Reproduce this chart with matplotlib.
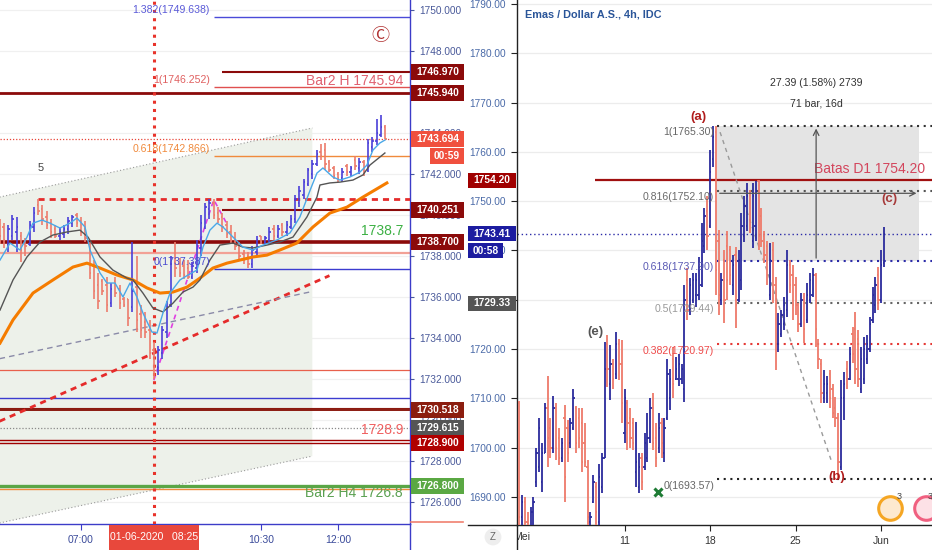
import numpy as np
import matplotlib

matplotlib.use("Agg")
import matplotlib.pyplot as plt  # noqa: E402
from matplotlib.lines import Line2D  # noqa: E402
from matplotlib.patches import Polygon, Rectangle  # noqa: E402
from matplotlib.transforms import (  # noqa: E402
    Bbox,
    TransformedBbox,
    blended_transform_factory,
)

plt.rcParams["font.family"] = ["Liberation Sans", "DejaVu Sans"]

PX = 0.72  # points per pixel at dpi 100
W, H = 932, 550

# ---------------------------------------------------------------- left: 5 min
LEFT_T0 = 325  # 05:25 in minutes, one bar every 5 minutes, (open, high, low, close)
bars_0525 = [
    (1739.6, 1739.8, 1738.6, 1739.0), (1739.4, 1739.6, 1738.4, 1738.8),
    (1738.6, 1739.5, 1738.2, 1739.3), (1739.0, 1740.0, 1738.8, 1739.8),
    (1739.2, 1739.9, 1738.2, 1739.4), (1739.0, 1739.2, 1737.7, 1738.3),
    (1738.6, 1738.9, 1738.0, 1738.5), (1738.6, 1739.7, 1738.5, 1739.5),
    (1739.4, 1740.4, 1739.2, 1740.1), (1740.5, 1740.8, 1740.0, 1740.2),
    (1740.3, 1740.5, 1739.5, 1739.8), (1739.9, 1740.2, 1739.3, 1739.5),
    (1739.6, 1739.8, 1738.9, 1739.2), (1739.3, 1739.5, 1738.9, 1739.0),
    (1739.0, 1739.4, 1738.8, 1739.2), (1739.1, 1739.5, 1738.9, 1739.3),
    (1739.3, 1739.9, 1739.1, 1739.7), (1739.6, 1740.0, 1739.4, 1739.9),
    (1740.0, 1740.1, 1739.4, 1739.6),
]
bars_0700 = [
    (1739.7, 1739.9, 1739.0, 1739.2), (1739.3, 1739.7, 1738.7, 1738.9),
    (1738.6, 1738.7, 1736.9, 1737.2), (1737.5, 1737.8, 1735.9, 1736.3),
    (1736.6, 1737.2, 1735.4, 1735.8), (1736.8, 1736.9, 1736.1, 1736.3),
    (1736.6, 1737.0, 1735.3, 1735.6), (1735.7, 1736.7, 1735.5, 1736.4),
    (1736.8, 1737.0, 1736.0, 1736.2), (1736.4, 1736.6, 1735.4, 1735.7),
    (1735.9, 1736.0, 1735.5, 1735.6), (1735.9, 1735.9, 1734.6, 1735.0),
]
bars_0800 = [
    (1735.5, 1738.7, 1735.3, 1736.3), (1736.5, 1738.0, 1734.3, 1734.9),
    (1735.2, 1735.6, 1734.0, 1734.4), (1734.8, 1735.3, 1734.0, 1734.3),
    (1734.4, 1734.9, 1733.0, 1733.3), (1733.4, 1733.8, 1732.0, 1732.6),
    (1732.6, 1733.6, 1732.2, 1733.4), (1733.3, 1734.6, 1733.0, 1734.4),
    (1734.3, 1735.8, 1734.0, 1735.5), (1735.6, 1738.0, 1735.5, 1737.6),
    (1737.7, 1738.7, 1737.0, 1737.4), (1737.6, 1737.9, 1737.0, 1737.2),
]
bars_0900 = [
    (1737.5, 1737.8, 1736.9, 1737.1), (1737.4, 1737.8, 1736.9, 1737.0),
    (1737.0, 1737.7, 1736.9, 1737.5), (1737.4, 1738.8, 1737.2, 1738.5),
    (1738.4, 1740.0, 1738.0, 1739.6), (1739.4, 1740.6, 1739.3, 1740.4),
    (1740.3, 1740.8, 1739.8, 1740.6), (1740.6, 1740.8, 1739.8, 1740.0),
    (1740.1, 1740.4, 1739.6, 1739.8), (1739.9, 1740.1, 1739.2, 1739.4),
    (1739.5, 1739.7, 1738.9, 1739.1), (1739.2, 1739.5, 1738.6, 1738.8),
]
bars_1000 = [
    (1738.9, 1739.2, 1738.3, 1738.5), (1738.6, 1738.7, 1737.8, 1738.0),
    (1738.1, 1738.3, 1737.6, 1737.8), (1738.0, 1738.2, 1737.4, 1737.6),
    (1737.6, 1738.5, 1737.4, 1738.3), (1738.2, 1739.0, 1738.0, 1738.8),
    (1739.0, 1739.0, 1738.6, 1738.7), (1738.7, 1739.0, 1738.6, 1738.9),
    (1738.8, 1739.4, 1738.7, 1739.2), (1739.3, 1739.5, 1738.8, 1739.0),
    (1739.0, 1739.5, 1738.9, 1739.3), (1739.5, 1739.6, 1739.0, 1739.2),
]
bars_1100 = [
    (1739.2, 1739.7, 1739.0, 1739.5), (1739.4, 1740.0, 1739.3, 1739.8),
    (1739.8, 1741.0, 1739.6, 1740.8), (1740.6, 1741.4, 1740.4, 1741.2),
    (1741.0, 1741.75, 1740.8, 1741.6), (1741.5, 1742.3, 1741.4, 1742.2),
    (1742.0, 1742.7, 1741.75, 1742.5), (1742.5, 1743.2, 1742.4, 1743.0),
    (1743.1, 1743.45, 1742.7, 1742.9), (1743.2, 1743.5, 1742.2, 1742.5),
    (1742.6, 1742.7, 1742.1, 1742.2), (1742.3, 1742.4, 1741.75, 1741.9),
]
bars_1200 = [
    (1742.0, 1742.1, 1741.6, 1741.8), (1741.8, 1742.3, 1741.6, 1742.1),
    (1742.4, 1742.5, 1741.9, 1742.1), (1742.1, 1742.4, 1741.9, 1742.3),
    (1742.7, 1742.9, 1742.2, 1742.4), (1742.3, 1742.8, 1742.0, 1742.6),
    (1742.6, 1742.7, 1741.9, 1742.1), (1742.2, 1743.7, 1742.1, 1743.5),
    (1743.3, 1743.8, 1743.1, 1743.6), (1743.6, 1744.7, 1743.4, 1744.0),
    (1743.9, 1744.9, 1743.8, 1744.3), (1744.3, 1744.4, 1743.7, 1743.694),
]

# moving averages: (minute of day, price)
ma_fast = [
    (325.5, 1737.81), (337.2, 1738.64), (348.8, 1738.30), (357, 1738.93), (364, 1739.61),
    (374.5, 1739.76), (383.8, 1739.61), (395.5, 1739.37), (407.2, 1739.61), (415.3, 1739.86),
    (424.7, 1739.42), (430.5, 1738.30), (442.2, 1737.18), (450.3, 1736.69), (459.7, 1736.69),
    (469, 1736.01), (477.2, 1736.69), (485.3, 1736.01), (492.3, 1735.23), (502.8, 1734.30),
    (508.7, 1734.25), (515.7, 1735.23), (523.9, 1736.20), (535.5, 1736.84), (544.9, 1737.08),
    (555.4, 1737.32), (562.4, 1738.44), (570.5, 1739.27), (578.7, 1739.61), (585.7, 1739.42),
    (597.4, 1738.93), (609, 1738.44), (620.7, 1738.30), (632.4, 1738.54), (648.7, 1738.79),
    (663.9, 1739.13), (675.5, 1739.91), (688.4, 1741.32), (695.4, 1742.05), (702.4, 1742.30),
    (714, 1741.86), (722.2, 1741.71), (733.9, 1741.86), (745.6, 1742.10), (753.7, 1742.44),
    (760.7, 1743.17), (768.9, 1743.52), (774.7, 1743.66),
]
ma_mid = [
    (325.5, 1735.37), (340.7, 1736.84), (357, 1737.96), (372.2, 1738.69), (387.3, 1739.03),
    (403.7, 1739.18), (418.8, 1739.27), (428.2, 1738.93), (442.2, 1737.96), (457.3, 1737.32),
    (473.7, 1736.93), (480.7, 1736.84), (492.3, 1736.20), (504, 1735.47), (515.7, 1735.28),
    (527.4, 1735.71), (539, 1736.25), (550.7, 1736.49), (558.9, 1736.84), (570.5, 1737.81),
    (582.2, 1738.54), (597.4, 1738.64), (609, 1738.44), (620.7, 1738.40), (637, 1738.54),
    (652.2, 1738.69), (667.4, 1738.93), (683.7, 1739.91), (695.4, 1740.88), (698.9, 1741.47),
    (710.5, 1741.57), (722.2, 1741.61), (737.4, 1741.71), (749.1, 1741.96), (757.2, 1742.44),
    (774.7, 1743.03),
]
ma_slow = [
    (325.5, 1733.76), (340.7, 1734.89), (364, 1736.20), (387.3, 1736.84), (410.7, 1737.47),
    (427, 1737.66), (442.2, 1737.42), (462, 1737.08), (480.7, 1736.84), (497, 1736.45),
    (512.2, 1736.20), (527.4, 1736.25), (543.7, 1736.49), (558.9, 1736.93), (574, 1737.42),
    (590.4, 1737.66), (605.5, 1737.81), (620.7, 1737.96), (637, 1738.05), (652.2, 1738.30),
    (672, 1738.64), (690.7, 1739.42), (710.5, 1740.10), (730.4, 1740.39), (749.1, 1740.88),
    (777, 1741.57),
]

# drawn levels on the 5 min chart
fib_left = [("1.382", 1749.638, "#4a4ad8", "#5a5ad8"),
            ("1", 1746.252, "#e05050", "#e06060"),
            ("0.618", 1742.866, "#f08a3c", "#f08a3c"),
            ("0", 1737.387, "#3c3cd0", "#4a4ad0")]
FIB_LEFT_T = 575          # 09:35, anchor of the fib tool
LEVEL_T = 585             # 09:45, anchor of the short dark red levels
levels_short = [1746.970, 1740.251]
levels_full = [(1745.940, "#8b0a0a", 2.0), (1738.700, "#8b0a0a", 2.6),
               (1738.16, "#f2a196", 1.6), (1732.43, "#e8604c", 0.9),
               (1731.07, "#3c3cd0", 1.0), (1730.518, "#8b1a10", 1.4),
               (1730.60, "#8b1a10", 0.8), (1728.90, "#a00000", 1.0),
               (1729.02, "#a00000", 1.0), (1726.80, "#5aa646", 2.4),
               (1726.67, "#f08a3c", 1.0)]
LAST_LEFT = 1743.694
RES_DASH = 1740.78        # red dashed horizontal from 06:10
RES_DASH_T = 370
SESSION_T = 505           # 08:25 vertical marker
red_trend = [(325, 1729.95), (710, 1737.05)]
gray_trend = [(325, 1733.0), (689, 1736.27)]
chan_top = [(325, 1740.88), (690, 1744.25)]
chan_bot = [(325, 1724.99), (690, 1728.25)]
pink_leg = [(505, 1731.95), (575, 1740.75), (590, 1739.6)]

tags_left = [(1746.970, "#8b0a0a"), (1745.940, "#8b0a0a"), (1743.694, "#f0503e"),
             (1740.251, "#8b0a0a"), (1738.700, "#8b0a0a"), (1730.518, "#8b1d0f"),
             (1729.615, "#555555"), (1728.900, "#b00000"), (1726.800, "#5aa843")]
left_ticks_t = [420, 630, 720]
left_ticks_lab = ["07:00", "10:30", "12:00"]

# ---------------------------------------------------------------- right: 4 h
apr30 = [(1709, 1709.5, 1684, 1686)]
may01 = [(1686, 1690.5, 1683, 1689), (1689, 1690, 1684, 1685), (1685, 1687, 1682, 1683),
         (1683, 1688, 1682, 1687), (1687, 1690, 1684, 1689), (1693, 1700, 1692, 1699)]
may04 = [(1696, 1706, 1695, 1704), (1693, 1701, 1691, 1699), (1699, 1709, 1699, 1708),
         (1708, 1714.5, 1696, 1702), (1704, 1706, 1698, 1700), (1700, 1710.5, 1699, 1708)]
may05 = [(1708, 1709, 1697.5, 1700), (1702, 1704, 1696.5, 1698), (1698, 1702, 1697, 1701),
         (1706, 1708.7, 1689, 1694), (1704, 1705.6, 1697, 1699), (1701, 1706, 1700, 1705)]
may06 = [(1704, 1712, 1703.5, 1710), (1708, 1708.5, 1699, 1701), (1706, 1708, 1700, 1702),
         (1705, 1708, 1695, 1697), (1701, 1705, 1696, 1697), (1696, 1697.5, 1684, 1686)]
may07 = [(1685, 1687, 1683, 1686), (1689, 1694.5, 1688.8, 1693), (1692, 1693, 1684, 1687),
         (1685, 1696.7, 1684, 1694), (1692, 1699, 1690.8, 1698), (1698, 1721.4, 1698, 1716)]
may08 = [(1721, 1722.8, 1712.3, 1716), (1713, 1720.8, 1709.7, 1717), (1717, 1718, 1712, 1714),
         (1715, 1723.5, 1714, 1721), (1721, 1722, 1713.7, 1717), (1717, 1721.8, 1705, 1709)]
may11 = [(1703, 1712, 1701, 1710), (1709, 1709.7, 1699.6, 1705), (1706, 1708, 1700, 1702),
         (1705, 1706, 1699.6, 1701), (1695, 1705.2, 1692, 1697), (1692, 1699, 1690.8, 1696)]
may12 = [(1698, 1699, 1691.4, 1693), (1696, 1703, 1695.5, 1701), (1698, 1707, 1697, 1702),
         (1702, 1710, 1701, 1708), (1708, 1711, 1699.5, 1701), (1702, 1705, 1696, 1698)]
may13 = [(1700, 1707, 1699, 1704), (1705, 1706, 1698, 1701), (1699, 1706, 1697, 1704),
         (1706, 1718, 1705.6, 1715), (1710, 1716, 1707.6, 1714), (1718, 1720.4, 1710, 1713)]
may14 = [(1714, 1718.4, 1713.7, 1716), (1714, 1719, 1712.5, 1717), (1714, 1717, 1713, 1716),
         (1712, 1733, 1709.3, 1730), (1734, 1736.5, 1726, 1728), (1728, 1734.4, 1727, 1733)]
may15 = [(1730, 1735.4, 1729.3, 1734), (1731, 1735.4, 1728.5, 1734), (1731, 1738.7, 1730, 1737),
         (1733, 1745.6, 1732.6, 1742), (1741, 1748.6, 1739.5, 1747), (1748, 1751, 1740, 1743)]
may18 = [(1745, 1760.4, 1744.6, 1756), (1758.5, 1765.3, 1757, 1763), (1764, 1765.3, 1731, 1736),
         (1742, 1744.2, 1727, 1731), (1730, 1735.4, 1729, 1734), (1738, 1740, 1725.3, 1730)]
may19 = [(1741, 1744, 1730, 1734), (1740, 1741, 1733, 1735), (1733, 1739, 1731, 1737),
         (1739, 1740.7, 1724.3, 1729), (1730, 1740, 1729.6, 1738), (1734, 1747.6, 1732, 1745)]
may20 = [(1743, 1751, 1741.7, 1749), (1745, 1753.7, 1744, 1751), (1752, 1752.3, 1743.6, 1746),
         (1742, 1753.7, 1740.5, 1751), (1745, 1754, 1742, 1752), (1754, 1754.3, 1740, 1743)]
may21 = [(1747, 1748.6, 1740.7, 1742), (1743, 1744, 1737.5, 1739), (1741, 1742, 1733, 1735),
         (1731, 1741.5, 1730, 1738), (1740, 1741.7, 1729.3, 1732), (1733, 1734.6, 1715.8, 1721)]
may22 = [(1721, 1727.3, 1719.4, 1725), (1723, 1728, 1722.5, 1727), (1725, 1730.6, 1723.9, 1729),
         (1728, 1740, 1726.5, 1737), (1737, 1738, 1731.4, 1733), (1735, 1737, 1726, 1729)]
may25 = [(1733, 1734.6, 1726.9, 1729), (1729, 1729.3, 1723.5, 1725), (1725, 1731.4, 1724.5, 1730),
         (1730, 1731.4, 1721.2, 1724), (1726, 1733.4, 1725.3, 1731), (1730, 1735.4, 1729.3, 1734)]
may26 = [(1731, 1736.5, 1730.6, 1735), (1735, 1735.5, 1720.4, 1724), (1721, 1722, 1716, 1718),
         (1717, 1718, 1709, 1711), (1710, 1715.8, 1709, 1713), (1711, 1714.5, 1709, 1713)]
may27 = [(1715, 1715.8, 1708, 1710), (1712, 1713, 1706, 1707), (1708, 1710.3, 1704.2, 1706),
         (1706, 1707, 1693.6, 1697), (1696, 1713.7, 1695.5, 1710), (1710, 1715.4, 1705.6, 1713)]
may28 = [(1716, 1717.5, 1712, 1714), (1714, 1720.4, 1713.7, 1719), (1723, 1724.5, 1717.2, 1719),
         (1724, 1727.5, 1713, 1716), (1722, 1723.9, 1712.3, 1714), (1712, 1720.4, 1711, 1718)]
may29 = [(1714, 1722.4, 1713, 1720), (1718, 1722.8, 1717, 1721), (1720, 1726.5, 1719.4, 1725),
         (1726, 1732.6, 1725.3, 1731), (1729, 1734.6, 1727.3, 1733), (1735, 1736.7, 1728, 1730)]
jun01 = [(1730, 1740, 1729.3, 1737), (1737.5, 1744.8, 1736.7, 1743.41)]

right_ticks_i = [36, 66, 96, 126]
right_ticks_lab = ["11", "18", "25", "Jun"]
fib_right = [("1", 1765.30, "#333333", "#666666"),
             ("0.816", 1752.10, "#555555", "#6a6a6a"),
             ("0.618", 1737.90, "#2c2ca8", "#5a5ab4"),
             ("0.5", 1729.44, "#666666", "#9a9a9a"),
             ("0.382", 1720.97, "#e53935", "#ef4a4a"),
             ("0", 1693.57, "#222222", "#666666")]
FIB_RIGHT_I = 68.4
MEASURE_BARS = 71
MEASURE_LO, MEASURE_HI = 1737.90, 1765.30
BATAS = 1754.20
BATAS_I = 25.6
LAST_RIGHT = 1743.41
wave_leg = [(69.5, 1764.0), (108.8, 1696.9)]
wave_marks = [("(a)", 61.8, 1767.1, "#b01c1c"), ("(b)", 110.5, 1694.1, "#b01c1c"),
              ("(c)", 128.8, 1750.4, "#a63a3a"), ("(e)", 25.6, 1723.5, "#555555")]
tags_right = [(1754.20, "#a00000"), (1743.41, "#1c1ca0"), (1729.33, "#555555")]

UP_L, DN_L = "#4a3fd8", "#ec7c6c"
UP_R, DN_R = "#2b2b9c", "#ee7a6a"


def draw_bars(ax, xs, bars, half, up, dn, lw):
    o, h, l, c = np.array(bars, dtype=float).T
    col = [up if cc >= oo else dn for oo, cc in zip(o, c)]
    ax.vlines(xs, l, h, colors=col, lw=lw, zorder=4)
    ax.hlines(o, xs - half, xs, colors=col, lw=lw, zorder=4)
    ax.hlines(c, xs, xs + half, colors=col, lw=lw, zorder=4)


def tag(ax, price, text, fc, x0, x1, drop=0, h=16, fs=7.4):
    """Price box drawn in figure pixels at the height of `price` (drop = px downward)."""
    yd = ax.transData.transform((ax.get_xlim()[0], price))[1] - drop
    fig.add_artist(Rectangle((x0 / W, (yd - h / 2) / H), (x1 - x0) / W, h / H,
                             transform=fig.transFigure, fc=fc, ec="none", zorder=20))
    fig.text((x0 + x1) / 2 / W, yd / H, text, ha="center", va="center", color="white",
             fontsize=fs, fontweight="bold", zorder=21)


def fig_line(x0, y0, x1, y1, color, lw=1.0):
    """Straight line in figure pixels measured from the top-left corner."""
    fig.add_artist(Line2D([x0 / W, x1 / W], [1 - y0 / H, 1 - y1 / H], color=color, lw=lw,
                          transform=fig.transFigure, zorder=19))


fig = plt.figure(figsize=(9.32, 5.5), dpi=100)
axL = fig.add_axes([0, 26 / 550, 410 / 932, 524 / 550])
axR = fig.add_axes([517 / 932, 25 / 550, 415 / 932, 525 / 550])

# ================================================================ left panel
axL.set_xlim(325.5, 804)
axL.set_ylim(1724.94, 1750.49)
for s in ("top", "left"):
    axL.spines[s].set_visible(False)
for s in ("right", "bottom"):
    axL.spines[s].set_color("#3c3cc8")
    axL.spines[s].set_linewidth(1.0)

ygrid = np.arange(1726, 1751, 2)
for y in ygrid:
    axL.axhline(y, color="#f0f0f0", lw=0.9, zorder=0)

(t0, p0), (t1, p1) = chan_top
(b0, q0), (b1, q1) = chan_bot
axL.add_patch(Polygon([(t0, p0), (t1, p1), (b1, q1), (b0, q0)], closed=True,
                      fc="#edf1ea", ec="none", zorder=0.5))
axL.plot(*zip(*chan_top), color="#9a9a9a", lw=0.8, dashes=(1, 2), zorder=1)
axL.plot(*zip(*chan_bot), color="#9a9a9a", lw=0.8, dashes=(1, 2), zorder=1)

for price, color, lw in levels_full:
    axL.axhline(price, color=color, lw=lw, zorder=2)
axL.axhline(LAST_LEFT, color="#e8463a", lw=0.9, dashes=(1, 1.5), zorder=2)
axL.axhline(1729.615, color="#8a8a8a", lw=0.9, dashes=(1, 1.5), zorder=2)
for price in levels_short:
    axL.hlines(price, LEVEL_T, 804, color="#8b0a0a", lw=1.5, zorder=2)
for name, price, lc, tc in fib_left:
    axL.hlines(price, FIB_LEFT_T, 804, color=lc, lw=1.0, zorder=2)
    axL.annotate(f"{name}({price:.3f})", xy=(FIB_LEFT_T - 4.5, price), xytext=(0, 7 * PX),
                 textcoords="offset points", ha="right", va="center", color=tc,
                 fontsize=7.6, zorder=6)

axL.hlines(RES_DASH, RES_DASH_T, 804, color="#e52b2b", lw=2.0, linestyles=(0, (2.2, 1.8)), zorder=3)
axL.plot(*zip(*red_trend), color="#e52b2b", lw=2.0, dashes=(2.2, 1.8), zorder=3)
axL.plot(*zip(*gray_trend), color="#8a8aa8", lw=1.0, dashes=(4, 3), zorder=3)
axL.plot(*zip(*pink_leg), color="#e040e0", lw=1.2, dashes=(3, 2.5), zorder=3)
axL.axvline(SESSION_T, color="#e8332a", lw=2.2, dashes=(1, 1.7), zorder=3)

axL.plot(*zip(*ma_slow), color="#f57c00", lw=2.2, zorder=5)
axL.plot(*zip(*ma_mid), color="#555555", lw=1.0, zorder=5)
axL.plot(*zip(*ma_fast), color="#4aa8e8", lw=1.0, zorder=5)

left_bars = bars_0525 + bars_0700 + bars_0800 + bars_0900 + bars_1000 + bars_1100 + bars_1200
lx = LEFT_T0 + 5 * np.arange(len(left_bars))
draw_bars(axL, lx, left_bars, 1.7, UP_L, DN_L, 1.2)

axL.annotate("Bar2 H 1745.94", xy=(795.7, 1745.94), xytext=(0, 12.5 * PX), textcoords="offset points",
             ha="right", va="center", color="#e06070", fontsize=10, zorder=6)
axL.annotate("1738.7", xy=(795.7, 1738.70), xytext=(0, 10.5 * PX), textcoords="offset points",
             ha="right", va="center", color="#3cb043", fontsize=10, zorder=6)
axL.annotate("1728.9", xy=(795.7, 1728.90), xytext=(0, 13 * PX), textcoords="offset points",
             ha="right", va="center", color="#f06060", fontsize=10, zorder=6)
axL.annotate("Bar2 H4 1726.8", xy=(795.7, 1726.80), xytext=(0, -7.5 * PX), textcoords="offset points",
             ha="right", va="center", color="#5aa050", fontsize=10, zorder=6)
axL.text(373.3, 1742.3, "5", color="#444444", fontsize=8, ha="center", va="center", zorder=6)
axL.text(770, 1748.73, "\u24b8", color="#b03030", fontsize=13, ha="center", va="center",
         family=["Noto Sans CJK JP", "DejaVu Sans"], zorder=6)

axL.yaxis.tick_right()
axL.set_yticks(ygrid)
axL.set_yticklabels([f"{v:.3f}" for v in ygrid])
axL.tick_params(axis="y", length=3, width=0.8, pad=4, color="#4a5a9a", labelcolor="#4a5a9a",
                labelsize=7.3)
axL.set_xticks(left_ticks_t)
axL.set_xticklabels(left_ticks_lab)
axL.tick_params(axis="x", length=4, width=0.8, pad=4, color="#3c3cc8", labelcolor="#3a4a9a",
                labelsize=7.5)

for price, fc in tags_left:
    tag(axL, price, f"{price:.3f}", fc, 411, 464)
tag(axL, LAST_LEFT, "00:59", "#f0503e", 430, 464, drop=17)

# session date box under the vertical marker
fig.add_artist(Rectangle((109 / W, 0), 90 / W, 25 / H, transform=fig.transFigure,
                         fc="#e8483c", ec="none", zorder=20))
fig.text(154 / W, 12.5 / H, "01-06-2020   08:25", ha="center", va="center", color="white",
         fontsize=7.5, zorder=21)

# ================================================================ right panel
axR.set_xlim(-1.75, 143.86)
axR.set_ylim(1684.32, 1790.81)
for s in ("top", "right"):
    axR.spines[s].set_visible(False)
for s in ("left", "bottom"):
    axR.spines[s].set_color("#222222")
    axR.spines[s].set_linewidth(1.0)

rgrid = np.arange(1690, 1791, 10)
for y in rgrid:
    axR.axhline(y, color="#ececec", lw=0.9, zorder=0)

axR.add_patch(Rectangle((FIB_RIGHT_I, MEASURE_LO), MEASURE_BARS, MEASURE_HI - MEASURE_LO,
                        fc="#e4e4e4", ec="none", zorder=1))

for name, price, lc, tc in fib_right:
    axR.hlines(price, FIB_RIGHT_I, 150, color=lc, lw=1.5, linestyles=(0, (1, 2.2)), zorder=2)
    axR.annotate(f"{name}({price:.2f})", xy=(FIB_RIGHT_I - 1, price), xytext=(0, -6.5 * PX),
                 textcoords="offset points", ha="right", va="center", color=tc,
                 fontsize=7.6, zorder=6)
axR.axhline(LAST_RIGHT, color="#2c2ca8", lw=1.0, dashes=(1, 2), zorder=2)
axR.hlines(BATAS, BATAS_I, 150, color="#a01010", lw=1.6, zorder=3)
axR.text(141.4, BATAS + 2.3, "Batas D1 1754.20", color="#d3455c", fontsize=10,
         ha="right", va="center", zorder=6)
axR.plot(*zip(*wave_leg), color="#9a9a9a", lw=1.0, dashes=(3, 3), zorder=3)

mid_i = FIB_RIGHT_I + MEASURE_BARS / 2 - 0.7
axR.annotate("", xy=(mid_i, MEASURE_HI), xytext=(mid_i, MEASURE_LO),
             arrowprops=dict(arrowstyle="->", color="#555555", lw=0.9), zorder=6)
axR.annotate("", xy=(FIB_RIGHT_I + MEASURE_BARS, (MEASURE_LO + MEASURE_HI) / 2),
             xytext=(FIB_RIGHT_I, (MEASURE_LO + MEASURE_HI) / 2),
             arrowprops=dict(arrowstyle="->", color="#555555", lw=0.9), zorder=6)
axR.text(mid_i, 1774.0, "27.39 (1.58%) 2739", color="#333333", fontsize=7.6, ha="center", va="center")
axR.text(mid_i, 1769.9, "71 bar, 16d", color="#333333", fontsize=7.6, ha="center", va="center")

right_bars = (apr30 + may01 + may04 + may05 + may06 + may07 + may08 + may11 + may12 + may13
              + may14 + may15 + may18 + may19 + may20 + may21 + may22 + may25 + may26 + may27
              + may28 + may29 + jun01)
rx = np.arange(len(right_bars)) - 1
draw_bars(axR, rx, right_bars, 0.45, UP_R, DN_R, 1.3)

for txt, i, p, c in wave_marks:
    axR.text(i, p, txt, color=c, fontsize=9.5, fontweight="bold", ha="center", va="center", zorder=7)
axR.plot(47.7, 1691.0, marker="x", ms=6, mew=2.2, color="#1e7b34", zorder=7)

axR.text(0.02, 0.972, "Emas / Dollar A.S., 4h, IDC", transform=axR.transAxes, color="#2a5599",
         fontsize=7.8, fontweight="bold", ha="left", va="center")

axR.set_yticks(rgrid)
axR.set_yticklabels([f"{v:.2f}" for v in rgrid])
axR.tick_params(axis="y", length=4, width=0.8, pad=4, color="#222222", labelcolor="#4a6aa8",
                labelsize=7.3)
axR.set_xticks(right_ticks_i)
axR.set_xticklabels(right_ticks_lab)
axR.tick_params(axis="x", length=4, width=0.8, pad=4, color="#222222", labelcolor="#333333",
                labelsize=7.5)
mei = axR.text(0, -12.5 / 525, "Mei", transform=blended_transform_factory(axR.transData, axR.transAxes),
               ha="center", va="center", color="#333333", fontsize=7.5, clip_on=False)
mei.set_clip_box(TransformedBbox(Bbox([[517 / W, 0], [1, 1]]), fig.transFigure))
mei.set_clip_on(True)

for price, fc in tags_right:
    tag(axR, price, f"{price:.2f}", fc, 468, 516, h=15)
tag(axR, LAST_RIGHT, "00:58", "#1c1ca0", 468, 503, drop=17, h=15)

# frame pieces running through the time-axis strip
fig_line(410, 524, 410, 550, "#3c3cc8")
fig_line(517, 525, 517, 550, "#222222")
fig_line(468, 525, 517, 525, "#222222")
fig_line(411, 522, 463, 522, "#f08070", lw=1.2)

# toolbar bits at the bottom
fig.text(493 / W, 13 / H, "Z", color="#666666", fontsize=7, ha="center", va="center",
         bbox=dict(boxstyle="circle,pad=0.35", fc="#eeeeee", ec="none"))
for fx, ring, face, dx in ((0.899, "#f5a623", "#fde9cf", 0.022), (0.985, "#f06080", "#fde1e6", 0.011)):
    axR.plot(fx, 0.032, marker="o", ms=17, mfc=face, mec=ring, mew=2.2,
             transform=axR.transAxes, clip_on=False, zorder=8)
    axR.text(fx + dx, 0.055, "3", transform=axR.transAxes, color="#444444", fontsize=6.5,
             ha="center", va="center", zorder=9)

fig.savefig("out.png", dpi=100)
